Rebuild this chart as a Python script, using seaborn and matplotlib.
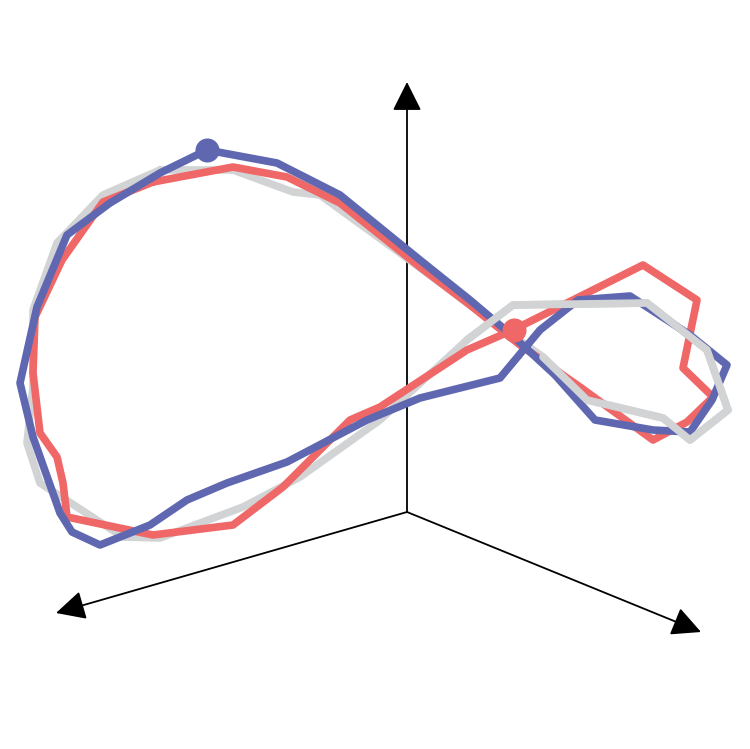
import matplotlib.pyplot as plt
import seaborn as sns
import pandas as pd
import numpy as np

# traced paths (picture space, y grows downward)
blue_x = [207, 277, 340, 420, 470, 515, 555, 595, 653, 690, 712, 727, 690, 630, 578, 540, 500, 420, 367, 287, 227, 187, 150, 100, 72, 60, 33, 20, 37, 67, 110, 160, 207]
blue_y = [150, 163, 195, 260, 300, 338, 375, 420, 430, 432, 400, 365, 335, 296, 300, 330, 378, 398, 420, 462, 483, 500, 525, 545, 532, 513, 437, 383, 307, 235, 203, 173, 150]

red_x = [153, 233, 287, 340, 420, 470, 520, 580, 653, 687, 713, 683, 697, 643, 513, 467, 380, 350, 283, 233, 153, 67, 63, 57, 40, 33, 35, 62, 103, 153]
red_y = [182, 167, 177, 203, 267, 305, 345, 387, 440, 422, 397, 368, 300, 265, 330, 350, 407, 420, 487, 525, 535, 517, 483, 457, 433, 373, 317, 260, 202, 182]

gray_x = [160, 233, 293, 320, 400, 470, 543, 587, 663, 690, 728, 707, 647, 513, 467, 380, 300, 243, 160, 123, 40, 27, 33, 33, 57, 103, 160]
gray_y = [170, 170, 192, 195, 253, 305, 357, 400, 418, 440, 410, 350, 303, 305, 340, 420, 477, 507, 538, 537, 483, 443, 387, 310, 243, 195, 170]

# part of the gray path that sits in front (right lobe)
gray_front = slice(6, 15)

# highlighted points
dot_x = [207, 514]
dot_y = [150, 330]

blue = '#5f67b1'
red = '#ef6767'
gray = '#d1d3d4'

sns.set_style('white')
fig = plt.figure(figsize=(7.5, 7.49), dpi=100)
ax = fig.add_axes([0, 0, 1, 1])

# axes arrows
origin = (407, 512)
for tip in [(407, 82), (56, 613), (701, 632)]:
    ax.annotate('', xy=tip, xytext=origin,
                arrowprops=dict(arrowstyle='-|>,head_length=0.9,head_width=0.45',
                                mutation_scale=20, lw=1.3, color='black',
                                shrinkA=0, shrinkB=0))

sns.lineplot(x=gray_x, y=gray_y, sort=False, estimator=None, color=gray, lw=5.5, ax=ax, zorder=3)
sns.lineplot(x=red_x, y=red_y, sort=False, estimator=None, color=red, lw=5.5, ax=ax, zorder=4)
sns.lineplot(x=blue_x, y=blue_y, sort=False, estimator=None, color=blue, lw=5.5, ax=ax, zorder=5)
sns.lineplot(x=gray_x[gray_front], y=gray_y[gray_front], sort=False, estimator=None,
             color=gray, lw=5.5, ax=ax, zorder=6)
sns.scatterplot(x=dot_x[:1], y=dot_y[:1], color=blue, s=300, linewidth=0, ax=ax, zorder=7)
sns.scatterplot(x=dot_x[1:], y=dot_y[1:], color=red, s=300, linewidth=0, ax=ax, zorder=7)

ax.set_xlim(0, 750)
ax.set_ylim(749, 0)
ax.axis('off')

fig.savefig('out.png', dpi=100)
